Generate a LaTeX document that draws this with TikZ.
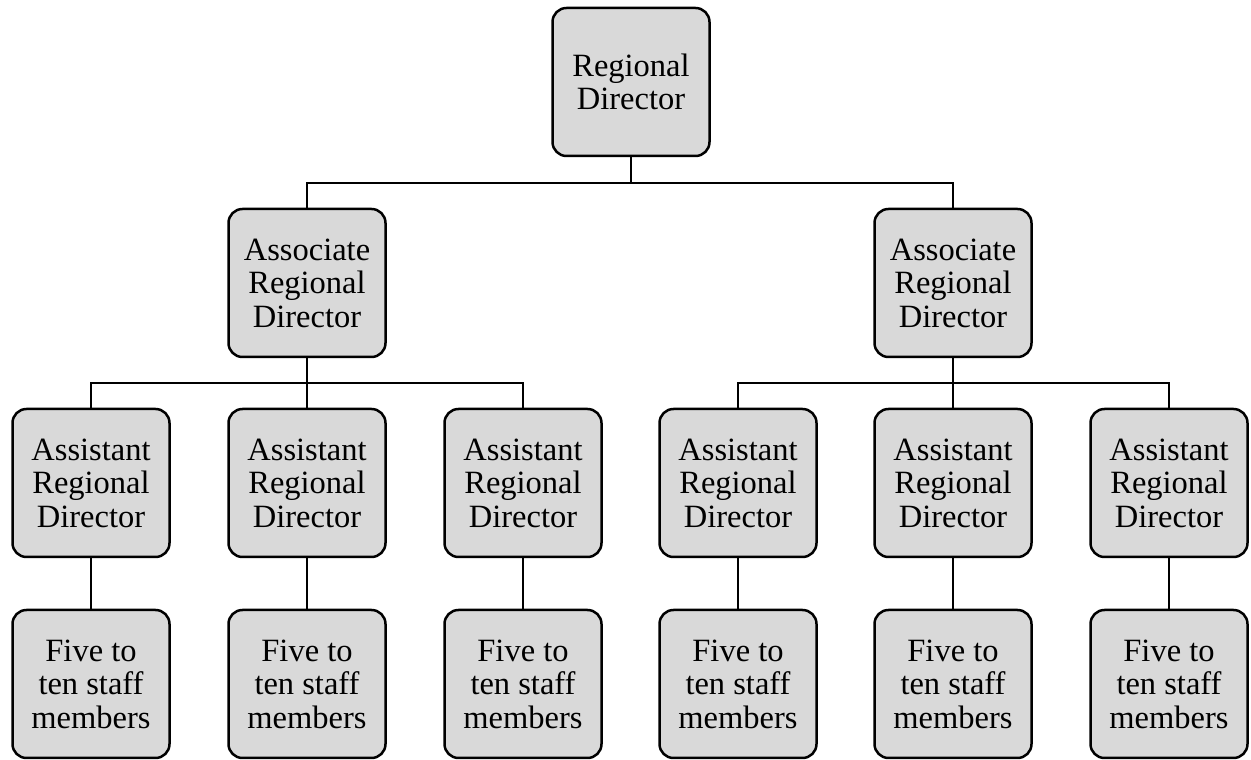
\documentclass[tikz,border=0pt]{standalone}
\usepackage{fontspec}
\setmainfont{Liberation Serif}
\usetikzlibrary{calc}

\tikzset{
  orgbox/.style={draw=black,line width=2.5pt,fill=black!15,rounded corners=14pt,
    minimum width=157pt,minimum height=148pt,align=center,inner sep=2pt,
    font=\fontsize{32.5}{33.5}\selectfont},
  link/.style={draw=black,line width=1.2pt}
}

\begin{document}
\begin{tikzpicture}[x=1pt,y=1pt]
        \useasboundingbox (0,0) rectangle (1251,760);
        % top level
        \node[orgbox] (rd) at (631,678) {Regional\\Director};
        % associates
        \node[orgbox] (ardL) at (307,477) {Associate\\Regional\\Director};
        \node[orgbox] (ardR) at (953,477) {Associate\\Regional\\Director};
        % assistants and staff
        \foreach \i/\x in {1/91,2/307,3/523,4/738,5/953,6/1169}{
            \node[orgbox] (asst\i) at (\x,277) {Assistant\\Regional\\Director};
            \node[orgbox] (staff\i) at (\x,76) {Five to\\ten staff\\members};
            \draw[link] (asst\i.south) -- (staff\i.north);
        }
        % buses
        \coordinate (busTop) at (631,577);
        \coordinate (busL) at (307,377);
        \coordinate (busR) at (953,377);
        \draw[link] (rd.south) -- (busTop) -| (ardL.north);
        \draw[link] (busTop) -| (ardR.north);
        \draw[link] (ardL.south) -- (busL) -| (asst1.north);
        \draw[link] (busL) -- (asst2.north);
        \draw[link] (busL) -| (asst3.north);
        \draw[link] (ardR.south) -- (busR) -| (asst4.north);
        \draw[link] (busR) -- (asst5.north);
        \draw[link] (busR) -| (asst6.north);
    \end{tikzpicture}
\end{document}
